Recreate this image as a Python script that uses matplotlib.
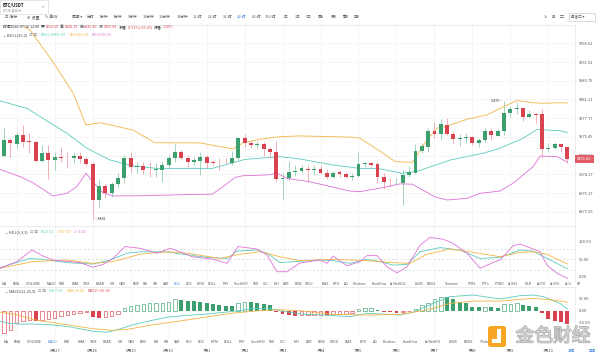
import numpy as np
import matplotlib
matplotlib.use("Agg")
import matplotlib.pyplot as plt
from matplotlib.patches import FancyBboxPatch, Rectangle
from matplotlib.ticker import NullLocator
import matplotlib.patheffects as pe

plt.rcParams['font.family'] = ['Noto Sans CJK SC', 'DejaVu Sans']

W, H = 600, 355

GREEN = '#3c9f6e'
RED = '#d9434f'
TEAL = '#5ccbbd'
ORANGE = '#f3b443'
PINK = '#dd72d6'
GRID = '#f1f1f1'
TXT = '#555555'
DARK = '#333333'
BLUE = '#3b7ddd'

# 4h candles, 2020-06-25 16:00 .. 2020-07-10 12:00
opens = [9174, 9259, 9237, 9286, 9251, 9250, 9146, 9187, 9151, 9164,
         9164, 9160, 9174, 9156, 9130, 8939, 9013, 8974, 9025, 9053,
         9160, 9112, 9119, 9098, 9096, 9096, 9124, 9160, 9192, 9163,
         9142, 9147, 9169, 9137, 9137, 9142, 9136, 9160, 9268, 9241,
         9232, 9236, 9210, 9192, 9051, 9053, 9089, 9092, 9103, 9096,
         9103, 9084, 9058, 9085, 9075, 9058, 9066, 9130, 9136, 9127,
         9062, 9035, 9032, 9030, 9071, 9084, 9199, 9221, 9308, 9290,
         9343, 9293, 9264, 9271, 9274, 9241, 9259, 9309, 9282, 9309,
         9408, 9430, 9432, 9386, 9401, 9401, 9212, 9217, 9236, 9222.50]
highs = [9331, 9270, 9304, 9341, 9297, 9259, 9232, 9232, 9196, 9221,
         9194, 9196, 9196, 9169, 9142, 9044, 9027, 9035, 9082, 9178,
         9192, 9142, 9142, 9140, 9135, 9147, 9178, 9236, 9205, 9178,
         9169, 9192, 9178, 9151, 9160, 9163, 9199, 9277, 9290, 9259,
         9253, 9250, 9223, 9256, 9080, 9148, 9124, 9122, 9124, 9124,
         9122, 9103, 9092, 9097, 9088, 9080, 9192, 9142, 9142, 9140,
         9079, 9053, 9053, 9100, 9119, 9237, 9240, 9323, 9357, 9376,
         9377, 9304, 9294, 9296, 9281, 9268, 9323, 9323, 9319, 9470,
         9445, 9467, 9441, 9423, 9405, 9427, 9241, 9250, 9244, 9228.19]
lows = [9167, 9167, 9216, 9221, 9189, 9142, 9140, 9050, 9097, 9142,
        9108, 9135, 9135, 9120, 8841, 8904, 8948, 8956, 9002, 9029,
        9082, 9080, 9076, 9062, 9062, 9034, 9108, 9142, 9151, 9115,
        9124, 9071, 9106, 9124, 9097, 9124, 9124, 9151, 9223, 9214,
        9214, 9173, 9169, 9035, 8946, 9042, 9063, 9080, 9034, 9071,
        9074, 9050, 9053, 9062, 9053, 9044, 9062, 9115, 9113, 9027,
        8997, 9008, 9017, 8913, 9062, 9082, 9191, 9196, 9268, 9259,
        9286, 9237, 9227, 9241, 9232, 9223, 9250, 9259, 9278, 9286,
        9383, 9403, 9364, 9377, 9353, 9163, 9196, 9209, 9196, 9136.49]
closes = [9259, 9240, 9286, 9250, 9249, 9146, 9187, 9151, 9169, 9163,
          9162, 9173, 9156, 9130, 8939, 9013, 8974, 9022, 9053, 9160,
          9115, 9119, 9097, 9097, 9101, 9124, 9160, 9192, 9163, 9142,
          9153, 9169, 9136, 9136, 9135, 9141, 9160, 9268, 9241, 9232,
          9236, 9209, 9196, 9047, 9055, 9087, 9092, 9106, 9097, 9103,
          9083, 9058, 9084, 9075, 9058, 9066, 9130, 9136, 9124, 9062,
          9035, 9032, 9035, 9073, 9089, 9199, 9224, 9308, 9290, 9344,
          9293, 9262, 9271, 9277, 9241, 9259, 9309, 9286, 9309, 9408,
          9428, 9436, 9386, 9401, 9396, 9210, 9217, 9236, 9223, 9156.82]

# BOLL(20,2) (x in candle index)
ub_idx = [-0.63, 4.11, 7.74, 10.9, 12.95, 15.17, 16.75, 20.38, 23.85, 30.96,
          36.18, 37.76, 40.44, 43.6, 46.76, 55.1, 56.24, 59.1, 61.8, 64.5,
          66.82, 68.4, 69.7, 73.14, 76.3, 78.36, 81.0, 83.57, 85.15, 87.84, 89]
ub_val = [9980, 9875, 9692, 9518, 9341, 9353, 9341, 9313, 9244, 9243,
          9210, 9243, 9263, 9277, 9281, 9274, 9268, 9205, 9142, 9138,
          9259, 9323, 9331, 9372, 9396, 9432, 9475, 9463, 9460, 9463, 9461.19]
mid_idx = [-0.63, 3.63, 6.16, 9.95, 13.1, 16.75, 20.38, 24.2, 32.9, 36.3,
           38.1, 43.6, 46.8, 52.0, 56.24, 59.1, 62.9, 65.4, 70.5, 75.7,
           78.36, 82.0, 84.2, 85.8, 87.84, 89]
mid_val = [9473, 9432, 9377, 9295, 9214, 9151, 9119, 9106, 9106, 9138,
           9154, 9169, 9156, 9124, 9106, 9106, 9080, 9092, 9151, 9187,
           9214, 9268, 9317, 9313, 9309, 9300.03]
lo_idx = [-0.63, 2.53, 4.58, 7.74, 9.95, 11.5, 12.95, 14.06, 15.64, 17.22,
          22.7, 30.96, 32.9, 34.6, 36.5, 37.76, 41.5, 43.13, 44.71, 48.3,
          54.66, 56.24, 59.4, 62.56, 64.5, 68.1, 70.0, 73.14, 75.2, 78.36,
          80.41, 83.57, 84.68, 87.36, 89]
lo_val = [9101, 9062, 9030, 8960, 8974, 9009, 9080, 9035, 8977, 8960,
          8962, 8969, 8969, 9009, 9058, 9067, 9071, 9080, 9053, 9035,
          8986, 8983, 9001, 9024, 9022, 8955, 8939, 8948, 8974, 8986,
          9027, 9115, 9172, 9169, 9139.06]

# KDJ(9,3,3)
k_idx = [-0.63, 4.11, 6.16, 9.95, 14.06, 16.75, 19.43, 21.49, 25.75, 27.8,
         32.07, 35.23, 36.81, 39.97, 41.55, 43.6, 46.76, 49.92, 51.97, 54.66,
         57.35, 59.4, 61.45, 63.67, 65.72, 68.88, 72.04, 75.2, 78.36, 81.52,
         83.57, 85.78, 89]
k_val = [27, 53, 50, 41, 37, 48.6, 68, 72, 72, 66,
         56, 53, 74, 77, 68, 41, 45, 48.6, 46.6, 39,
         50.5, 44, 34, 36, 72, 84, 77, 53, 56, 77,
         74, 53, 23.51]
d_idx = [-0.63, 4.58, 9.95, 14.06, 17.22, 21.49, 25.75, 28.91, 34.12, 37.28,
         40.44, 43.6, 46.76, 51.97, 57.35, 61.45, 64.14, 66.82, 70.46, 74.09,
         78.36, 81.52, 83.57, 85.78, 89]
d_val = [25, 44, 48.6, 39, 44, 65, 72, 68, 53, 65,
         72, 58, 46.6, 50.5, 46.6, 41, 39, 65, 80, 70.5,
         58, 70.5, 72, 65, 37.03]
j_idx = [-0.63, 2.05, 4.42, 6.16, 7.74, 12.0, 14.06, 15.64, 17.22, 19.12,
         21.49, 24.17, 26.22, 27.8, 29.7, 33.02, 35.23, 36.97, 39.97, 41.55,
         43.13, 44.71, 46.76, 49.92, 51.03, 51.97, 54.19, 56.24, 57.35, 58.93,
         60.5, 62.09, 63.67, 65.72, 67.3, 69.35, 70.93, 73.14, 75.2, 77.25,
         78.36, 80.41, 81.52, 83.57, 84.68, 85.78, 87.36, 89]
j_val = [25, 44, 77, 60, 48.6, 41, 28, 36, 53, 87,
         82, 68, 82, 72, 58, 51, 39, 87, 80, 63,
         15, 15, 40, 48.6, 39, 60, 32, 44, 61, 61,
         29, 12, 29, 91, 113, 108, 96, 68, 25, 41,
         48.6, 89, 94, 80, 72, 34, 10.5, -3.54]

# MACD(12,26,9)
macd_hist = [-95, -81, -53, -45, -38, -43, -38, -36, -31, -24,
             -17, -14, -10, -6, -28, -31, -28, -24, -14, 11,
             18, 25, 28, 31, 32, 33, 37, 48, 46, 43,
             40, 37, 33, 29, 26, 21, 18, 33, 38, 37,
             33, 29, 23, -6, -14, -19, -21, -20, -19, -18,
             -17, -20, -15, -13, -12, -10, 8, 10, 12, 3,
             -4, -6, -10, -4, -2, 8, 24, 31, 50, 60,
             58, 50, 38, 31, 17, 14, 15, 14, 13, 27,
             28, 31, 24, 21, 17, -11, -36, -43, -47, -55.65]
dif_idx = [-0.63, 0.95, 2.53, 4.58, 7.27, 9.95, 14.06, 16.27, 18.33, 20.38,
           23.07, 25.75, 28.91, 32.07, 36.18, 39.34, 41.55, 43.6, 46.76, 51.97,
           54.66, 57.35, 62.56, 64.61, 67.77, 70.46, 74.09, 78.36, 81.52, 83.57,
           85.15, 87.84, 89]
dif_val = [-45, -55, -57, -57, -60, -67, -88, -92, -78, -60,
           -43, -28, -20, -14, -3, 8.5, 11, 0, -14, -21,
           -25.6, -11, -18.5, -7, 31, 60, 67, 50, 64, 67,
           60, 31, 7.01]
dea_idx = [-0.63, 2.05, 4.58, 9.95, 14.06, 17.22, 19.43, 23.07, 27.33, 30.96,
           36.18, 40.44, 43.6, 46.76, 51.97, 57.35, 62.56, 66.82, 70.46, 74.09,
           78.36, 83.57, 86.73, 89]
dea_val = [-6, -17, -38, -60, -77, -84, -80, -62, -46, -31,
           -10, 0, 4, 0, -15.6, -18.5, -15.6, 3, 31, 41,
           41, 53, 45.5, 35.64]

price_ticks = [9798.62, 9691.52, 9585.79, 9481.21, 9377.77, 9275.45,
               9174.26, 9074.17, 8975.17, 8877.25]
dates = ['6月27', '6月28', '6月29', '6月30', '7月1', '7月2', '7月3',
         '7月4', '7月5', '7月6', '7月7', '7月8', '7月9', '7月10']

o = np.array(opens)
h = np.array(highs)
l = np.array(lows)
c = np.array(closes)
idx = np.arange(len(c))
day_grid = np.arange(2, len(c), 6)
date_pos = np.arange(8, len(c), 6)

fig = plt.figure(figsize=(W / 100, H / 100), dpi=100)
fig.patch.set_facecolor('white')
rend = fig.canvas.get_renderer()


def pax(x0, y0, x1, y1):
    return fig.add_axes([x0 / W, 1 - y1 / H, (x1 - x0) / W, (y1 - y0) / H])


def ftext(x, y, s, color=TXT, size=2.9, ha='left', **kw):
    return fig.text(x / W, 1 - y / H, s, color=color, fontsize=size,
                    va='center', ha=ha, **kw)


def run(x, y, parts, size=2.9):
    # lay text pieces one after another; each part is (text, colour, gap after)
    for s, col, gap in parts:
        t = ftext(x, y, s, color=col, size=size)
        x = t.get_window_extent(renderer=rend).x1 + gap
    return x


def style(ax, ticks, labels):
    ax.set_xlim(-0.63, 90.2)
    ax.set_xticks(day_grid)
    ax.set_yticks(ticks)
    ax.set_yticklabels(labels)
    ax.yaxis.set_minor_locator(NullLocator())
    ax.yaxis.tick_right()
    ax.tick_params(axis='both', length=0, labelsize=2.9, labelcolor=TXT, pad=2.5)
    ax.tick_params(axis='x', labelbottom=False)
    for s in ('left', 'bottom'):
        ax.spines[s].set_visible(False)
    for s in ('top', 'right'):
        ax.spines[s].set_color('#e4e4e4')
        ax.spines[s].set_linewidth(0.5)
    ax.set_axisbelow(True)


# ---- main price panel
ax = pax(0, 25, 575, 225)
ax.set_yscale('log')
ax.set_ylim(8809, 9904)
style(ax, price_ticks, ['%.2f' % v for v in price_ticks])
ax.grid(True, color=GRID, lw=0.5)

up = c >= o
body_col = np.where(up, GREEN, RED)
wick_col = np.where(up, '#93cdb1', '#eea2a8')
ax.vlines(idx, l, h, colors=wick_col, lw=0.6, zorder=2)
ax.bar(idx, np.maximum(np.abs(c - o), 1.6), bottom=np.minimum(o, c),
       width=0.62, color=body_col, zorder=3)

ax.plot(ub_idx, ub_val, color=ORANGE, lw=0.6, zorder=2)
ax.plot(mid_idx, mid_val, color=TEAL, lw=0.6, zorder=2)
ax.plot(lo_idx, lo_val, color=PINK, lw=0.6, zorder=2)

ax.text(14.4, l[14], '– %d' % l[14], fontsize=2.6, color=DARK, va='center')
ax.text(78.6, h[79], '%d –' % h[79], fontsize=2.6, color=DARK, va='center', ha='right')
ax.text(1.004, c[-1], '%.2f' % c[-1], transform=ax.get_yaxis_transform(),
        fontsize=2.9, color='white', va='center', ha='left', clip_on=False,
        bbox=dict(boxstyle='square,pad=0.45', fc='#e35d66', ec='none'))

# ---- KDJ panel
ak = pax(0, 226, 575, 282)
ak.set_ylim(-14.3, 145.7)
style(ak, [100, 50, 0], ['100.00', '50.00', '0.00'])
ak.grid(True, axis='x', color=GRID, lw=0.5)
for lev in (80, 50, 20):
    ak.axhline(lev, color='#d4d4d4', lw=0.5, ls=(0, (3, 3)), zorder=1)
ak.plot(k_idx, k_val, color=TEAL, lw=0.6)
ak.plot(d_idx, d_val, color=ORANGE, lw=0.6)
ak.plot(j_idx, j_val, color=PINK, lw=0.6)

# ---- MACD panel
am = pax(0, 287, 575, 338)
am.set_ylim(-116.6, 101.2)
style(am, [50, 0, -50], ['50.00', '0.00', '-50.00'])
am.grid(True, axis='x', color=GRID, lw=0.5)
hist = np.array(macd_hist)
prev = np.r_[hist[0] - 1, hist[:-1]]
rising = hist >= prev
hcol = np.where(hist >= 0, GREEN, RED)
am.bar(idx[~rising], hist[~rising], width=0.62, color=hcol[~rising], zorder=2)
am.bar(idx[rising], hist[rising], width=0.55, facecolor='none',
       edgecolor=hcol[rising], linewidth=0.45, zorder=2)
am.plot(dif_idx, dif_val, color=TEAL, lw=0.6, zorder=3)
am.plot(dea_idx, dea_val, color=ORANGE, lw=0.6, zorder=3)

tr = am.get_xaxis_transform()
for p, s in zip(date_pos, dates):
    am.text(p, -0.255, s, transform=tr, fontsize=2.9, color=TXT,
            ha='center', va='center', clip_on=False)

# ---- header
fig.patches.append(Rectangle((0, 1 - 14 / H), 48 / W, 14 / H, transform=fig.transFigure,
                             fc='white', ec='#dddddd', lw=0.5))
ftext(3, 5, 'BTC/USDT', color='#222', size=3.1, weight='bold')
ftext(3, 10.5, 'BTC永续合约', color='#999', size=2.3)
ftext(40, 7, '×', color='#888', size=2.9)

ftext(5, 17, '⊡ 指标')
ftext(27, 17, '⚙ 设置')
ftext(45, 17, '✎ 画线')
periods = ['周期 ▾', '分时', '1分钟', '3分钟', '5分钟', '10分钟', '15分钟', '30分钟',
           '1小时', '2小时', '3小时', '4小时', '6小时', '12小时', '1日', '3日',
           '5日', '周K', '月K', '季K', '年K']
period_x = [72, 87, 99, 113, 128, 143, 159, 177, 193, 208, 223, 237, 252,
            265, 283, 295, 306, 318, 331, 343, 354]
for s, x in zip(periods, period_x):
    ftext(x, 17, s, color=BLUE if s == '4小时' else TXT, size=2.7)
ftext(544, 17, '1s', size=2.7)
ftext(552, 17, '⊞', size=2.9)
ftext(560, 17, '▢', size=2.9)
fig.patches.append(Rectangle((569 / W, 1 - 21 / H), 26 / W, 8 / H, transform=fig.transFigure,
                             fc='white', ec='#cccccc', lw=0.5))
ftext(571, 17, '单窗口 ▾', size=2.6)

run(3, 27, [('时间2020-07-10 12:00', DARK, 1.5),
            ('开:', DARK, 0), ('9222.50', RED, 1.5),
            ('高:', DARK, 0), ('9228.19', RED, 1.5),
            ('低:', DARK, 0), ('9136.49', RED, 1.5),
            ('收:', DARK, 0), ('9156.82', RED, 1.5),
            ('涨幅:', DARK, 0), ('-0.71%(-65.69)', RED, 1.5),
            ('振幅:', DARK, 0), ('1.10%', RED, 0)], size=2.7)

run(3, 35, [('⌄ BOLL(20,2)', '#444', 2), ('⊡ ⊠', '#888', 3),
            ('BOLL:9300.03', TEAL, 3), ('UB:9461.19', ORANGE, 3),
            ('LB:9139.06', PINK, 0)], size=2.8)
run(5, 232, [('⌄ KDJ(9,3,3)', '#444', 2), ('⊡ ⊠', '#888', 3),
             ('K:23.51', TEAL, 3), ('D:37.03', ORANGE, 3),
             ('J:-3.54', PINK, 0)], size=2.8)
run(5, 291, [('⌄ MACD(12,26,9)', '#444', 2), ('⊡ ⊠', '#888', 3),
             ('DIF:7.01', TEAL, 3), ('DEA:35.64', ORANGE, 3),
             ('MACD:-55.65', RED, 0)], size=2.8)

# indicator tabs
row_a = ['MA', 'EMA', 'VOLUME', 'MACD', 'DMI', 'DMA', 'TRIX', 'BRAR', 'VR', 'OBV',
         'EMV', 'RSI', 'WR', 'SAR', 'KDJ', 'ROC', 'MTM', 'BOLL', 'PSY', 'StochRSI',
         'SMI', 'CCI', 'MFI', 'ATR', 'BBW', 'SKDJ', 'BIAS', 'DPO', 'AO', 'Position',
         'Fundflow', 'AI-NetVOL', 'LSUR', 'BASIS', 'Tvolume', 'FTBS', 'FTFs', 'FTWU',
         'AI-BSI', 'MLR', 'AI-PO', 'AI-FDI', 'AI-U', 'FR']
row_a_x = [2, 13, 26, 47, 59, 72, 83, 96, 110, 119,
           133, 143, 153, 163, 174, 186, 197, 208, 223, 234,
           253, 263, 274, 283, 295, 305, 322, 333, 344, 353,
           372, 390, 415, 427, 445, 468, 482, 495, 508, 525,
           537, 550, 565, 577]
for s, x in zip(row_a, row_a_x):
    ftext(x, 284, s, color=BLUE if s == 'KDJ' else TXT, size=2.5)

row_b = ['MA', 'EMA', 'VOLUME', 'MACD', 'DMI', 'DMA', 'TRIX', 'BRAR', 'VR', 'OBV',
         'EMV', 'RSI', 'WR', 'SAR', 'KDJ', 'ROC', 'MTM', 'BOLL', 'PSY', 'StochRSI',
         'SMI', 'CCI', 'MFI', 'ATR', 'BBW', 'SKDU', 'BIAS', 'DPO', 'AO', 'Position',
         'Fundflow', 'AI-NetVOL', 'LSUR', 'BASIS', 'TVolume']
row_b_x = [4, 14, 27, 48, 64, 78, 90, 103, 118, 128,
           140, 154, 164, 174, 186, 198, 211, 224, 239, 251,
           269, 280, 294, 306, 318, 330, 345, 360, 373, 383,
           403, 425, 449, 464, 480]
for s, x in zip(row_b, row_b_x):
    ftext(x, 342, s, color=BLUE if s == 'MACD' else TXT, size=2.5)

ftext(568, 351, '方向', color=BLUE, size=2.6)
ftext(589, 351, '区间', color=BLUE, size=2.6)

# watermark
fig.patches.append(FancyBboxPatch((488 / W, 1 - 347 / H), 18 / W, 21 / H,
                                  boxstyle='round,pad=0,rounding_size=0.006',
                                  transform=fig.transFigure, fc='#f6a623', ec='none', zorder=5))
fig.patches.append(Rectangle((497 / W, 1 - 343 / H), 4 / W, 14 / H, transform=fig.transFigure,
                             fc='white', ec='none', zorder=6))
fig.patches.append(Rectangle((492 / W, 1 - 343 / H), 9 / W, 4 / H, transform=fig.transFigure,
                             fc='white', ec='none', zorder=6))
fig.text(553 / W, 1 - 336 / H, '金色财经', fontsize=13.5, color='#d2d2d2',
         ha='center', va='center', zorder=7,
         path_effects=[pe.withStroke(linewidth=0.9, foreground='#a9a9a9')])

fig.savefig('out.png', dpi=100, facecolor='white')
